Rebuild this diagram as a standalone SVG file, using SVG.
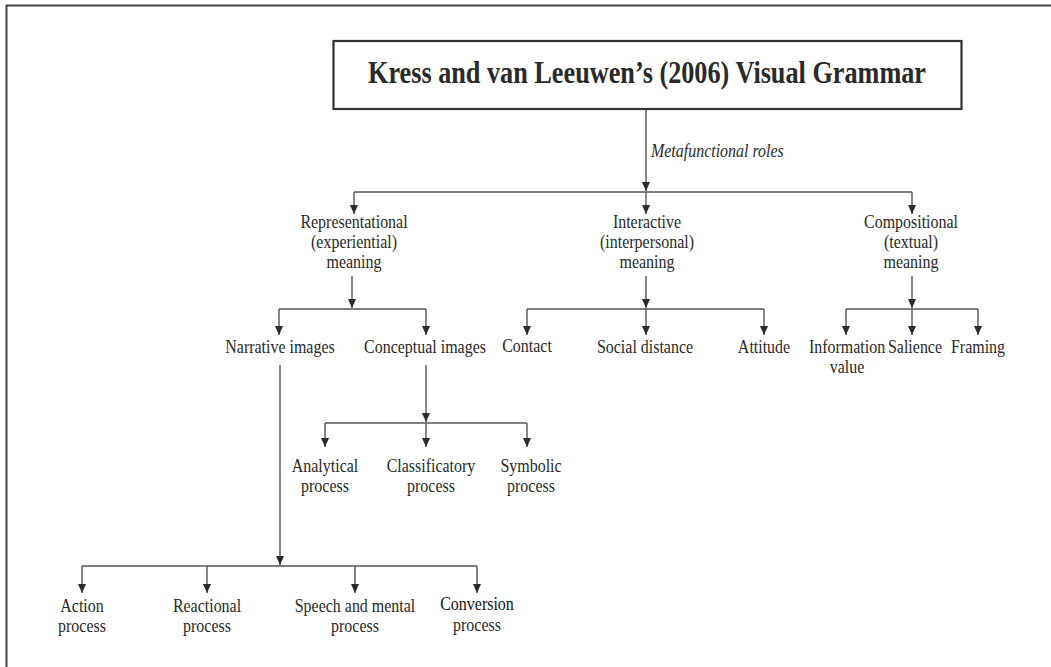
<svg xmlns="http://www.w3.org/2000/svg" width="1051" height="667" viewBox="0 0 1051 667">
  <defs>
    <marker id="arr" markerUnits="userSpaceOnUse" markerWidth="10" markerHeight="10" refX="9" refY="4" orient="auto">
      <path d="M0,0 L9,4 L0,8 z" fill="#2a2a2a"/>
    </marker>
    <style>
      .lbl { font-family: "Liberation Serif", "Times New Roman", serif; font-size: 18px; fill: #2a2a2a; text-anchor: middle; }
      .it { font-family: "Liberation Serif", "Times New Roman", serif; font-size: 18px; font-style: italic; fill: #2a2a2a; }
      .title { font-family: "Liberation Serif", "Times New Roman", serif; font-size: 32px; font-weight: bold; fill: #2a2a2a; text-anchor: middle; }
      .ln { stroke: #555; stroke-width: 1.4; fill: none; }
      .ar { stroke: #555; stroke-width: 1.4; fill: none; marker-end: url(#arr); }
    </style>
  </defs>
  <rect width="1051" height="667" fill="#fff"/>
  <path d="M6.5,667 V5.5 H1051" fill="none" stroke="#444" stroke-width="2"/>

  <g id="title">
    <rect x="333.5" y="41" width="628" height="68" fill="#fff" stroke="#333" stroke-width="2.2"/>
    <text class="title" x="647" y="83" textLength="558" lengthAdjust="spacingAndGlyphs">Kress and van Leeuwen’s (2006) Visual Grammar</text>
  </g>

  <g id="connectors">
    <line class="ar" x1="646" y1="110" x2="646" y2="191"/>
    <line class="ln" x1="354" y1="192" x2="912" y2="192"/>
    <line class="ar" x1="354" y1="192" x2="354" y2="214"/>
    <line class="ar" x1="646" y1="192" x2="646" y2="214"/>
    <line class="ar" x1="912" y1="192" x2="912" y2="214"/>

    <line class="ar" x1="352" y1="276" x2="352" y2="308"/>
    <line class="ln" x1="279" y1="309" x2="426" y2="309"/>
    <line class="ar" x1="279" y1="309" x2="279" y2="335"/>
    <line class="ar" x1="426" y1="309" x2="426" y2="335"/>

    <line class="ar" x1="646" y1="276" x2="646" y2="308"/>
    <line class="ln" x1="527" y1="309" x2="764" y2="309"/>
    <line class="ar" x1="527" y1="309" x2="527" y2="335"/>
    <line class="ar" x1="646" y1="309" x2="646" y2="335"/>
    <line class="ar" x1="764" y1="309" x2="764" y2="335"/>

    <line class="ar" x1="912" y1="276" x2="912" y2="308"/>
    <line class="ln" x1="846" y1="309" x2="978" y2="309"/>
    <line class="ar" x1="846" y1="309" x2="846" y2="335"/>
    <line class="ar" x1="912" y1="309" x2="912" y2="335"/>
    <line class="ar" x1="978" y1="309" x2="978" y2="335"/>

    <line class="ar" x1="426" y1="365" x2="426" y2="422"/>
    <line class="ln" x1="325" y1="423" x2="527" y2="423"/>
    <line class="ar" x1="325" y1="423" x2="325" y2="447"/>
    <line class="ar" x1="426" y1="423" x2="426" y2="447"/>
    <line class="ar" x1="527" y1="423" x2="527" y2="447"/>

    <line class="ar" x1="280" y1="365" x2="280" y2="565"/>
    <line class="ln" x1="82" y1="566" x2="477" y2="566"/>
    <line class="ar" x1="82" y1="566" x2="82" y2="593"/>
    <line class="ar" x1="207" y1="566" x2="207" y2="593"/>
    <line class="ar" x1="355" y1="566" x2="355" y2="593"/>
    <line class="ar" x1="477" y1="566" x2="477" y2="593"/>

    <text class="it" transform="translate(651,157) scale(0.887,1)">Metafunctional roles</text>
  </g>

  <g id="representational"><text class="lbl" transform="translate(354,228) scale(0.887,1)"><tspan x="0" y="0">Representational</tspan><tspan x="0" y="20">(experiential)</tspan><tspan x="0" y="40">meaning</tspan></text></g>
  <g id="interactive"><text class="lbl" transform="translate(647,228) scale(0.887,1)"><tspan x="0" y="0">Interactive</tspan><tspan x="0" y="20">(interpersonal)</tspan><tspan x="0" y="40">meaning</tspan></text></g>
  <g id="compositional"><text class="lbl" transform="translate(911,228) scale(0.887,1)"><tspan x="0" y="0">Compositional</tspan><tspan x="0" y="20">(textual)</tspan><tspan x="0" y="40">meaning</tspan></text></g>

  <g id="narrative"><text class="lbl" transform="translate(280,353) scale(0.887,1)">Narrative images</text></g>
  <g id="conceptual"><text class="lbl" transform="translate(425,353) scale(0.887,1)">Conceptual images</text></g>
  <g id="contact"><text class="lbl" transform="translate(527,352) scale(0.887,1)">Contact</text></g>
  <g id="social-distance"><text class="lbl" transform="translate(645,353) scale(0.887,1)">Social distance</text></g>
  <g id="attitude"><text class="lbl" transform="translate(764,353) scale(0.887,1)">Attitude</text></g>
  <g id="information-value"><text class="lbl" transform="translate(847,353) scale(0.887,1)"><tspan x="0" y="0">Information</tspan><tspan x="0" y="20">value</tspan></text></g>
  <g id="salience"><text class="lbl" transform="translate(915,353) scale(0.887,1)">Salience</text></g>
  <g id="framing"><text class="lbl" transform="translate(978,353) scale(0.887,1)">Framing</text></g>

  <g id="analytical"><text class="lbl" transform="translate(325,472) scale(0.887,1)"><tspan x="0" y="0">Analytical</tspan><tspan x="0" y="20">process</tspan></text></g>
  <g id="classificatory"><text class="lbl" transform="translate(431,472) scale(0.887,1)"><tspan x="0" y="0">Classificatory</tspan><tspan x="0" y="20">process</tspan></text></g>
  <g id="symbolic"><text class="lbl" transform="translate(531,472) scale(0.887,1)"><tspan x="0" y="0">Symbolic</tspan><tspan x="0" y="20">process</tspan></text></g>

  <g id="action"><text class="lbl" transform="translate(82,612) scale(0.887,1)"><tspan x="0" y="0">Action</tspan><tspan x="0" y="20">process</tspan></text></g>
  <g id="reactional"><text class="lbl" transform="translate(207,612) scale(0.887,1)"><tspan x="0" y="0">Reactional</tspan><tspan x="0" y="20">process</tspan></text></g>
  <g id="speech-mental"><text class="lbl" transform="translate(355,612) scale(0.887,1)"><tspan x="0" y="0">Speech and mental</tspan><tspan x="0" y="20">process</tspan></text></g>
  <g id="conversion"><text class="lbl" transform="translate(477,610) scale(0.887,1)"><tspan x="0" y="0" style="fill:#111">Conversion</tspan><tspan x="0" y="21">process</tspan></text></g>
</svg>
